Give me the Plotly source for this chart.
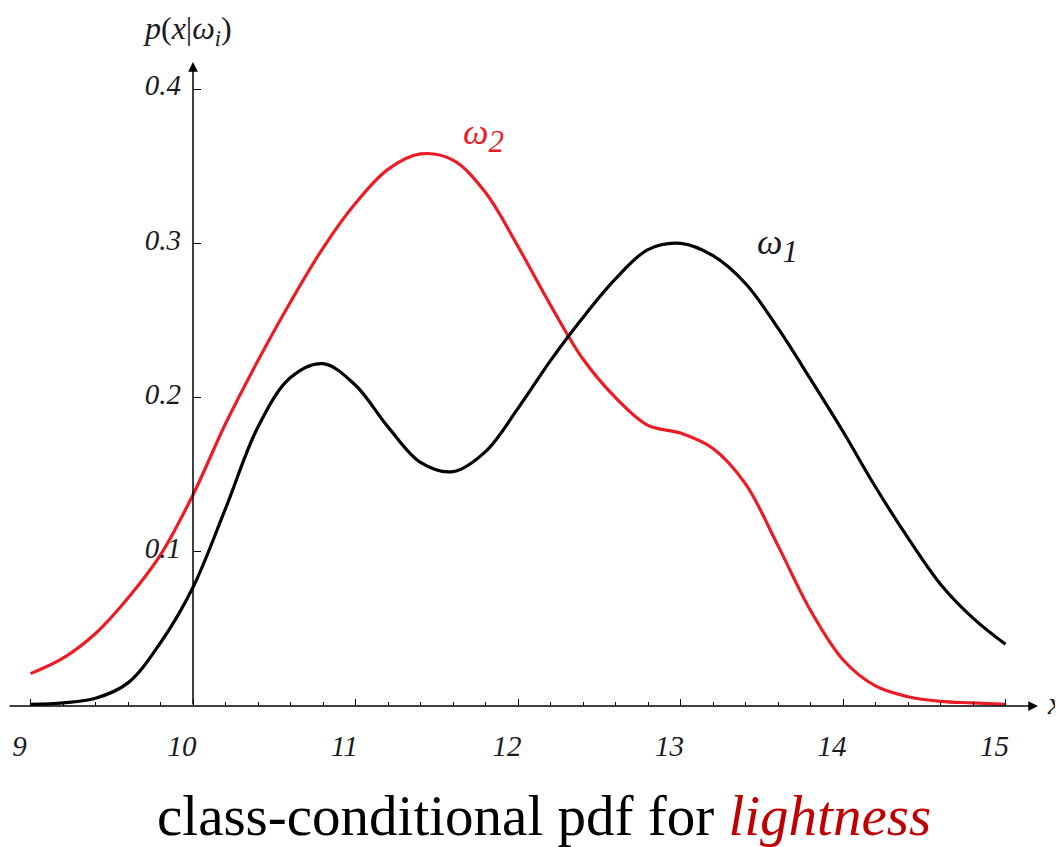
import plotly.graph_objects as go

# ---- data ----
x_vals = [9.0, 9.2, 9.4, 9.6, 9.8, 10.0, 10.2, 10.4, 10.6, 10.8, 11.0, 11.2, 11.4, 11.6, 11.8,
          12.0, 12.2, 12.4, 12.6, 12.8, 13.0, 13.2, 13.4, 13.6, 13.8, 14.0, 14.2, 14.4, 14.6,
          14.8, 15.0]
omega1 = [0.001, 0.002, 0.005, 0.015, 0.041, 0.077, 0.128, 0.181, 0.213, 0.222, 0.208, 0.181,
          0.158, 0.152, 0.165, 0.193, 0.224, 0.252, 0.277, 0.296, 0.300, 0.292, 0.274, 0.245,
          0.212, 0.178, 0.142, 0.109, 0.079, 0.057, 0.040]
omega2 = [0.021, 0.031, 0.047, 0.070, 0.098, 0.137, 0.183, 0.224, 0.262, 0.297, 0.326, 0.348,
          0.358, 0.354, 0.333, 0.298, 0.260, 0.225, 0.200, 0.182, 0.177, 0.167, 0.144, 0.104,
          0.062, 0.030, 0.013, 0.006, 0.003, 0.002, 0.001]
x_major = [9, 10, 11, 12, 13, 14, 15]
x_major_text = ["9", "10", "11", "12", "13", "14", "15"]
x_minor = [round(9 + 0.2 * k, 1) for k in range(31) if k % 5 != 0]
y_major = [0.1, 0.2, 0.3, 0.4]
y_major_text = ["0.1", "0.2", "0.3", "0.4"]

# page body has an 8px margin, so the figure is drawn 8px smaller and offset
W, H = 1055, 839
X0, SX = 185.0, 162.5      # figure pixel of x=10, px per unit
Y0, SY = 698.0, 1542.0     # figure pixel of y=0, px per unit
xmin = 10 - X0 / SX
xmax = 10 + (W - X0) / SX
ymax = Y0 / SY
ymin = -(H - Y0) / SY
x_tip = 15.2
y_tip = (Y0 - 54) / SY

RED = "#ec1c24"
BLACK = "#000000"
LABEL = "#1a1a22"
SERIF = "Liberation Serif"

fig = go.Figure()
fig.add_trace(go.Scatter(x=x_vals, y=omega2, mode="lines",
                         line=dict(color=RED, width=3.2, shape="spline", smoothing=1.0),
                         hoverinfo="skip", showlegend=False))
fig.add_trace(go.Scatter(x=x_vals, y=omega1, mode="lines",
                         line=dict(color=BLACK, width=3.2, shape="spline", smoothing=1.0),
                         hoverinfo="skip", showlegend=False))

# axis lines with arrows
fig.add_annotation(x=x_tip, y=0, ax=xmin, ay=0, xref="x", yref="y",
                   axref="x", ayref="y", text="", showarrow=True,
                   arrowhead=2, arrowsize=1.3, arrowwidth=1.5, arrowcolor=BLACK, standoff=0)
fig.add_annotation(x=10, y=y_tip, ax=10, ay=0, xref="x", yref="y",
                   axref="x", ayref="y", text="", showarrow=True,
                   arrowhead=2, arrowsize=1.3, arrowwidth=1.5, arrowcolor=BLACK, standoff=0)

# labels
fig.add_annotation(x=x_tip, y=0, xref="x", yref="y", text="<i>x</i>", showarrow=False,
                   xanchor="left", yanchor="middle", xshift=7, yshift=3,
                   font=dict(family=SERIF, size=32, color=LABEL))
fig.add_annotation(x=10, y=y_tip, xref="x", yref="y",
                   text="<i>p</i>(<i>x</i>|<i>ω<sub>i</sub></i>)", showarrow=False,
                   xanchor="center", yanchor="bottom", xshift=-6, yshift=9,
                   font=dict(family=SERIF, size=32, color=LABEL))
fig.add_annotation(x=11.674, y=0.3729, xref="x", yref="y", xanchor="left",
                   xshift=-4, yshift=-5,
                   text="<i>ω<sub><span style='font-size:31px'>2</span></sub></i>",
                   showarrow=False, font=dict(family=SERIF, size=36, color=RED))
fig.add_annotation(x=13.477, y=0.3016, xref="x", yref="y", xanchor="left",
                   xshift=-3, yshift=-5,
                   text="<i>ω<sub><span style='font-size:31px'>1</span></sub></i>",
                   showarrow=False, font=dict(family=SERIF, size=36, color=LABEL))

# caption
fig.add_annotation(x=0.5076, y=0.0, xref="paper", yref="paper",
                   text="class-conditional pdf for <i><span style='color:#c00000'>lightness</span></i>",
                   showarrow=False, xanchor="center", yanchor="bottom", yshift=-2,
                   font=dict(family=SERIF, size=57, color=BLACK))

fig.update_layout(
    width=W, height=H,
    margin=dict(l=0, r=0, t=0, b=0),
    paper_bgcolor="white", plot_bgcolor="white",
    xaxis=dict(range=[xmin, xmax], domain=[0, 1], anchor="free", position=(H - Y0) / H,
               showgrid=False, zeroline=False, showline=False, automargin=False,
               tickmode="array", tickvals=x_major, ticktext=x_major_text,
               ticks="inside", ticklen=7, tickwidth=1.3, tickcolor=BLACK,
               ticklabelstandoff=20, ticklabelshift=-11,
               tickfont=dict(family=SERIF, size=29, color=LABEL, style="italic"),
               minor=dict(tickmode="array", tickvals=x_minor, ticks="inside",
                          ticklen=4, tickwidth=1.1, tickcolor=BLACK, showgrid=False)),
    yaxis=dict(range=[ymin, ymax], domain=[0, 1], anchor="free", position=X0 / W,
               showgrid=False, zeroline=False, showline=False, automargin=False,
               tickmode="array", tickvals=y_major, ticktext=y_major_text,
               ticks="inside", ticklen=7, tickwidth=1.3, tickcolor=BLACK,
               ticklabelstandoff=12, ticklabelshift=-4,
               tickfont=dict(family=SERIF, size=29, color=LABEL, style="italic")),
)

fig.write_html("out.html")
